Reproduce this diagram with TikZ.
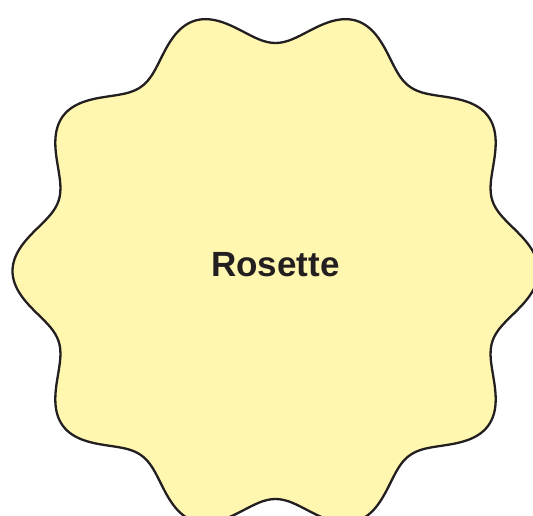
\documentclass[tikz,border=0pt]{standalone}
\usepackage{fontspec}
\setmainfont{Liberation Sans}
\definecolor{rosefill}{HTML}{FFF6B0}
\definecolor{roseline}{HTML}{231F20}
\begin{document}
\begin{tikzpicture}[x=1pt,y=-1pt,
  rosette/.style={draw=roseline,fill=rosefill,line width=2.3pt,line join=round},
  rosetext/.style={font=\bfseries\fontsize{35}{40}\selectfont,text=roseline}]
\useasboundingbox (0,0) rectangle (533,516);
\clip (0,0) rectangle (533,516);
\draw[rosette] plot[domain=0:359, samples=360, smooth cycle]
  ({275.5+(245.5+17.5*cos(10*\x))*cos(\x)},{271-(245.5+17.5*cos(10*\x))*sin(\x)});
\node[rosetext] (label) at (275.5,265) {Rosette};
\end{tikzpicture}
\end{document}
